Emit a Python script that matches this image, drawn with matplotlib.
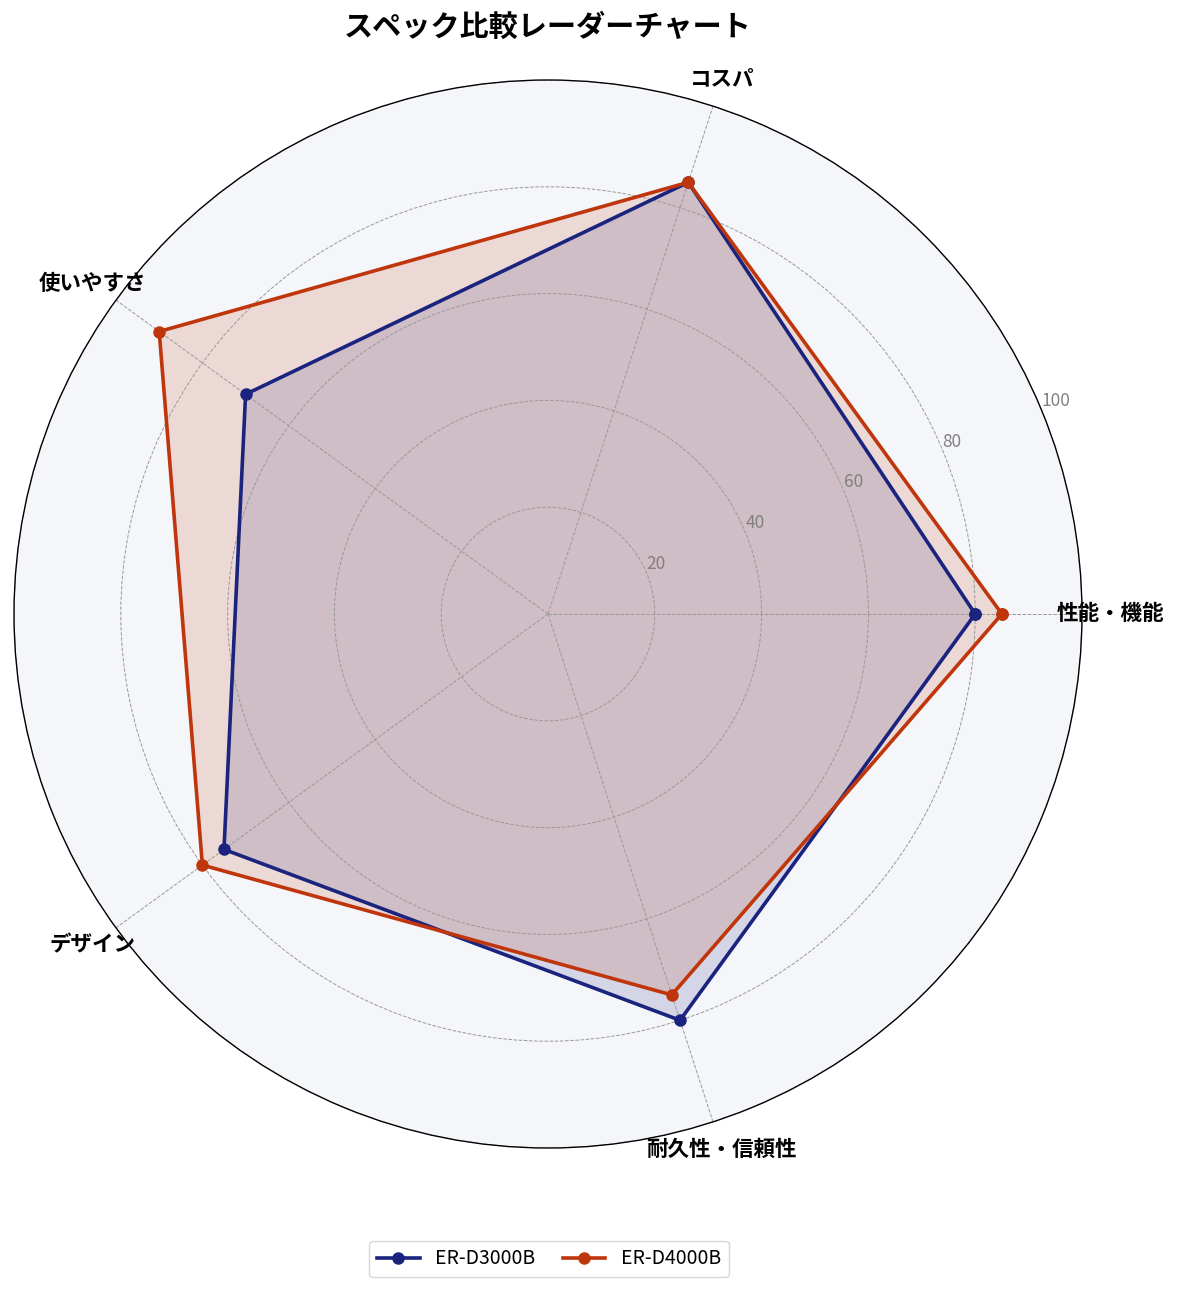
import numpy as np
import matplotlib
matplotlib.use("Agg")
import matplotlib.pyplot as plt

plt.rcParams["font.family"] = ["Noto Sans CJK JP", "DejaVu Sans"]

categories = ["性能・機能", "コスパ", "使いやすさ", "デザイン", "耐久性・信頼性"]
series_names = ["ER-D3000B", "ER-D4000B"]
d3000 = [80, 85, 70, 75, 80]
d4000 = [85, 85, 90, 80, 75]
colors = ["#1A237E", "#BF360C"]

n = len(categories)
angles = np.linspace(0, 2 * np.pi, n, endpoint=False).tolist()
angles_c = angles + angles[:1]

fig = plt.figure(figsize=(11.85, 12.92), dpi=100)
ax = fig.add_axes([14 / 1185, 1 - 1148 / 1292, 1068 / 1185, 1068 / 1292], polar=True)
ax.set_facecolor("#F5F6FA")

for vals, name, c in zip([d3000, d4000], series_names, colors):
    v = vals + vals[:1]
    ax.plot(angles_c, v, "-o", color=c, lw=2.6, ms=8, label=name)
    ax.fill(angles_c, v, color=c, alpha=0.15)

ax.set_ylim(0, 100)
ax.set_yticks([20, 40, 60, 80, 100])
ax.set_yticklabels(["20", "40", "60", "80", "100"], color="#808080", fontsize=12.5)
ax.set_rlabel_position(22.5)
ax.set_xticks(angles)
ax.set_xticklabels(categories, fontsize=15.5, fontweight="bold")
ax.tick_params(axis="x", pad=10)
ax.grid(color="#999999", ls="--", lw=0.7)
ax.spines["polar"].set_color("black")
ax.spines["polar"].set_linewidth(1.0)

fig.text(548 / 1185, 1 - 27 / 1292, "スペック比較レーダーチャート", fontsize=21,
         fontweight="bold", ha="center", va="center")
fig.legend(loc="center", bbox_to_anchor=(549 / 1185, 1 - 1259 / 1292), ncol=2, fontsize=14,
           handlelength=2.2, columnspacing=1.4)

fig.savefig("out.png", dpi=100)
